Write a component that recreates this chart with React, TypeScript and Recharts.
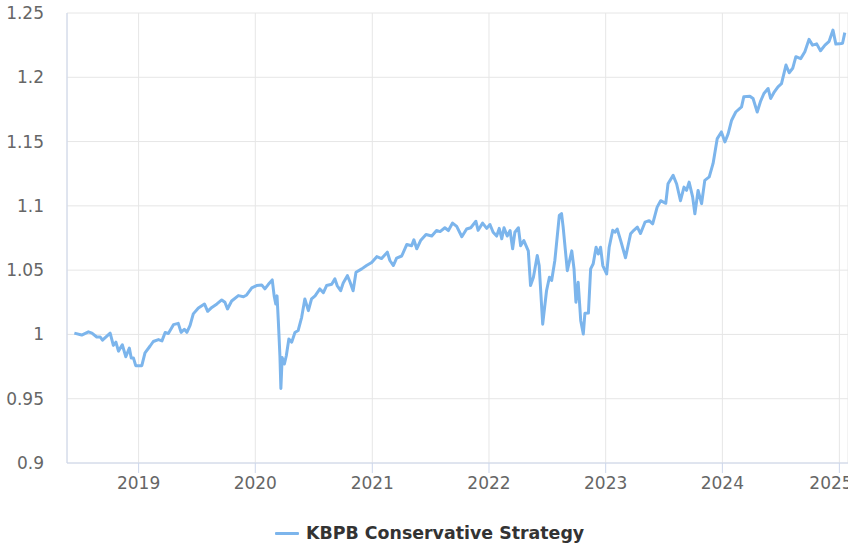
import React from "react";
import { LineChart, Line, XAxis, YAxis, CartesianGrid, Legend } from "recharts";

const seriesName = "KBPB Conservative Strategy";

const dates: string[] = [
  "2018-06-14","2018-07-07","2018-07-28","2018-08-08","2018-08-23","2018-09-03","2018-09-10","2018-10-04","2018-10-14","2018-10-22",
  "2018-10-30","2018-11-11","2018-11-22","2018-12-03","2018-12-09","2018-12-16","2018-12-23",
  "2019-01-11","2019-01-21","2019-02-06","2019-02-16","2019-03-04","2019-03-15","2019-03-25","2019-04-04","2019-04-20","2019-05-05",
  "2019-05-14","2019-05-24","2019-06-01","2019-06-11","2019-06-21","2019-07-07","2019-07-26","2019-08-05","2019-08-18","2019-09-03",
  "2019-09-18","2019-09-28","2019-10-06","2019-10-19","2019-11-09","2019-11-25","2019-12-05","2019-12-21",
  "2020-01-05","2020-01-21","2020-01-31","2020-02-11","2020-02-23","2020-02-29","2020-03-05","2020-03-09","2020-03-13","2020-03-18",
  "2020-03-21","2020-03-25","2020-04-01","2020-04-07","2020-04-15","2020-04-24","2020-05-04","2020-05-14","2020-05-25","2020-06-04",
  "2020-06-15","2020-06-25","2020-07-06","2020-07-21","2020-08-01","2020-08-11","2020-08-27","2020-09-06","2020-09-13","2020-09-24",
  "2020-10-02","2020-10-15","2020-10-23","2020-11-02","2020-11-11","2020-11-29","2020-12-14","2020-12-30",
  "2021-01-15","2021-01-30","2021-02-17","2021-02-25","2021-03-08","2021-03-18","2021-04-03","2021-04-19","2021-05-04","2021-05-11",
  "2021-05-20","2021-06-01","2021-06-18","2021-07-06","2021-07-21","2021-08-01","2021-08-16","2021-08-27","2021-09-09","2021-09-22",
  "2021-10-08","2021-10-23","2021-11-05","2021-11-21","2021-11-28","2021-12-12","2021-12-25",
  "2022-01-04","2022-01-14","2022-01-25","2022-02-02","2022-02-10","2022-02-17","2022-02-27","2022-03-08","2022-03-16","2022-03-23",
  "2022-04-03","2022-04-10","2022-04-20","2022-05-04","2022-05-11","2022-05-20","2022-06-01","2022-06-07","2022-06-18","2022-06-30",
  "2022-07-09","2022-07-16","2022-07-26","2022-08-09","2022-08-16","2022-08-21","2022-09-03","2022-09-17","2022-09-24","2022-09-30",
  "2022-10-07","2022-10-15","2022-10-23","2022-10-28","2022-11-08","2022-11-15","2022-11-23","2022-12-02","2022-12-09","2022-12-16",
  "2022-12-23",
  "2023-01-04","2023-01-12","2023-01-23","2023-01-30","2023-02-06","2023-02-17","2023-03-04","2023-03-20","2023-03-30","2023-04-10",
  "2023-04-20","2023-05-04","2023-05-17","2023-05-28","2023-06-11","2023-06-22","2023-07-08","2023-07-15","2023-07-31","2023-08-11",
  "2023-08-23","2023-09-03","2023-09-11","2023-09-19","2023-09-30","2023-10-07","2023-10-17","2023-10-28","2023-11-07","2023-11-21",
  "2023-12-03","2023-12-16","2023-12-29",
  "2024-01-09","2024-01-19","2024-01-30","2024-02-12","2024-03-01","2024-03-08","2024-03-27","2024-04-06","2024-04-19","2024-04-29",
  "2024-05-10","2024-05-23","2024-05-31","2024-06-10","2024-06-23","2024-07-04","2024-07-18","2024-07-28","2024-08-08","2024-08-18",
  "2024-09-02","2024-09-15","2024-09-28","2024-10-09","2024-10-22","2024-11-03","2024-11-17","2024-11-30","2024-12-12","2024-12-21",
  "2025-01-01","2025-01-11","2025-01-18"
];

const values: number[] = [
  1.001,0.9995,1.002,1.001,0.998,0.998,0.9955,1.001,0.9915,0.994,
  0.987,0.992,0.9826,0.9894,0.9816,0.9816,0.9757,
  0.9757,0.9857,0.991,0.9945,0.996,0.995,1.0015,1.0007,1.0076,1.0086,
  1.0016,1.004,1.0016,1.007,1.016,1.0206,1.0237,1.018,1.021,1.0237,
  1.0268,1.025,1.0198,1.026,1.0302,1.0293,1.0307,1.0362,
  1.038,1.0385,1.0354,1.039,1.0424,1.03,1.0237,1.03,1.0107,0.9834,
  0.958,0.982,0.977,0.9834,0.9965,0.994,1.0015,1.003,1.0133,1.0276,
  1.0185,1.0276,1.03,1.0354,1.0325,1.038,1.039,1.0432,1.038,1.034,
  1.04,1.0457,1.041,1.034,1.0484,1.051,1.0536,1.056,
  1.0605,1.059,1.064,1.0575,1.0536,1.0594,1.061,1.07,1.069,1.0736,
  1.0666,1.073,1.0777,1.0765,1.0808,1.08,1.083,1.0808,1.0866,1.084,
  1.076,1.082,1.083,1.088,1.081,1.0866,1.0825,
  1.0855,1.0795,1.0765,1.0825,1.0744,1.083,1.0765,1.0808,1.0666,1.0795,
  1.083,1.069,1.073,1.065,1.038,1.0445,1.0614,1.0535,1.008,1.034,
  1.0445,1.042,1.0575,1.0925,1.094,1.0834,1.0496,1.065,1.051,1.025,
  1.0405,1.0107,1.0003,1.0164,1.0166,1.051,1.055,1.0678,1.0625,1.0678,
  1.0536,
  1.047,1.0678,1.081,1.0795,1.082,1.073,1.0596,1.0783,1.081,1.0835,
  1.0785,1.0873,1.0885,1.086,1.099,1.104,1.102,1.1172,1.1237,1.117,
  1.104,1.1146,1.112,1.1185,1.107,1.0938,1.112,1.1017,1.1198,1.1225,
  1.133,1.1523,1.1575,
  1.1497,1.156,1.1666,1.173,1.177,1.1848,1.1853,1.1835,1.173,1.181,
  1.1874,1.1913,1.1835,1.188,1.1926,1.195,1.2095,1.2035,1.207,1.216,
  1.2145,1.2198,1.2295,1.225,1.226,1.2206,1.225,1.228,1.2367,1.2258,
  1.226,1.2265,1.2347
];

const xTickYears: number[] = [2019, 2020, 2021, 2022, 2023, 2024, 2025];
const yTicks: number[] = [0.9, 0.95, 1, 1.05, 1.1, 1.15, 1.2, 1.25];
const xDomainDates: string[] = ["2018-05-22", "2025-01-28"];

const data = dates.map((d, i) => ({ t: Date.parse(d + "T00:00:00Z"), v: values[i] }));
const xTicks = xTickYears.map((y) => Date.UTC(y, 0, 1));
const xDomain = xDomainDates.map((d) => Date.parse(d + "T00:00:00Z"));

const FONT = "'DejaVu Sans', sans-serif";
const LINE_COLOR = "#7cb5ec";

const LegendContent = () => (
  <div style={{ position: "relative", width: 848, height: 26 }}>
    <div style={{ position: "absolute", left: 275, top: 14, width: 24, height: 3, background: LINE_COLOR, borderRadius: 1 }} />
    <div style={{ position: "absolute", left: 306, top: 5, fontFamily: FONT, fontSize: 17.4, fontWeight: "bold", color: "#333333", whiteSpace: "nowrap", lineHeight: "20px" }}>
      {seriesName}
    </div>
  </div>
);

export default function App() {
  return (
    <div style={{ position: "absolute", left: 0, top: 0, width: 848, height: 544, background: "#ffffff", fontFamily: FONT }}>
      <LineChart width={848} height={544} data={data} margin={{ top: 13, right: 0, bottom: 15, left: 0 }}>
        <CartesianGrid stroke="#e6e6e6" strokeWidth={1} vertical={true} horizontal={true} />
        <XAxis
          dataKey="t"
          type="number"
          scale="time"
          domain={xDomain}
          ticks={xTicks}
          allowDataOverflow
          tickFormatter={(t: number) => String(new Date(t).getUTCFullYear())}
          height={40}
          tickSize={10}
          tickMargin={4}
          stroke="#ccd6eb"
          tickLine={{ stroke: "#ccd6eb" }}
          axisLine={{ stroke: "#ccd6eb" }}
          tick={{ fill: "#666666", fontSize: 17, fontFamily: FONT }}
        />
        <YAxis
          type="number"
          domain={[0.9, 1.25]}
          ticks={yTicks}
          allowDataOverflow
          width={67}
          tickLine={false}
          tickSize={0}
          tickMargin={23}
          axisLine={{ stroke: "#ccd6eb" }}
          tickFormatter={(v: number) => String(Number(v.toFixed(2)))}
          tick={{ fill: "#666666", fontSize: 17, fontFamily: FONT }}
        />
        <Legend
          verticalAlign="bottom"
          height={30}
          content={<LegendContent />}
          wrapperStyle={{ position: "absolute", left: 0, top: 518, width: 848, height: 26 }}
        />
        <Line
          type="linear"
          dataKey="v"
          name={seriesName}
          stroke={LINE_COLOR}
          strokeWidth={3}
          dot={false}
          isAnimationActive={false}
          strokeLinejoin="round"
        />
      </LineChart>
    </div>
  );
}
